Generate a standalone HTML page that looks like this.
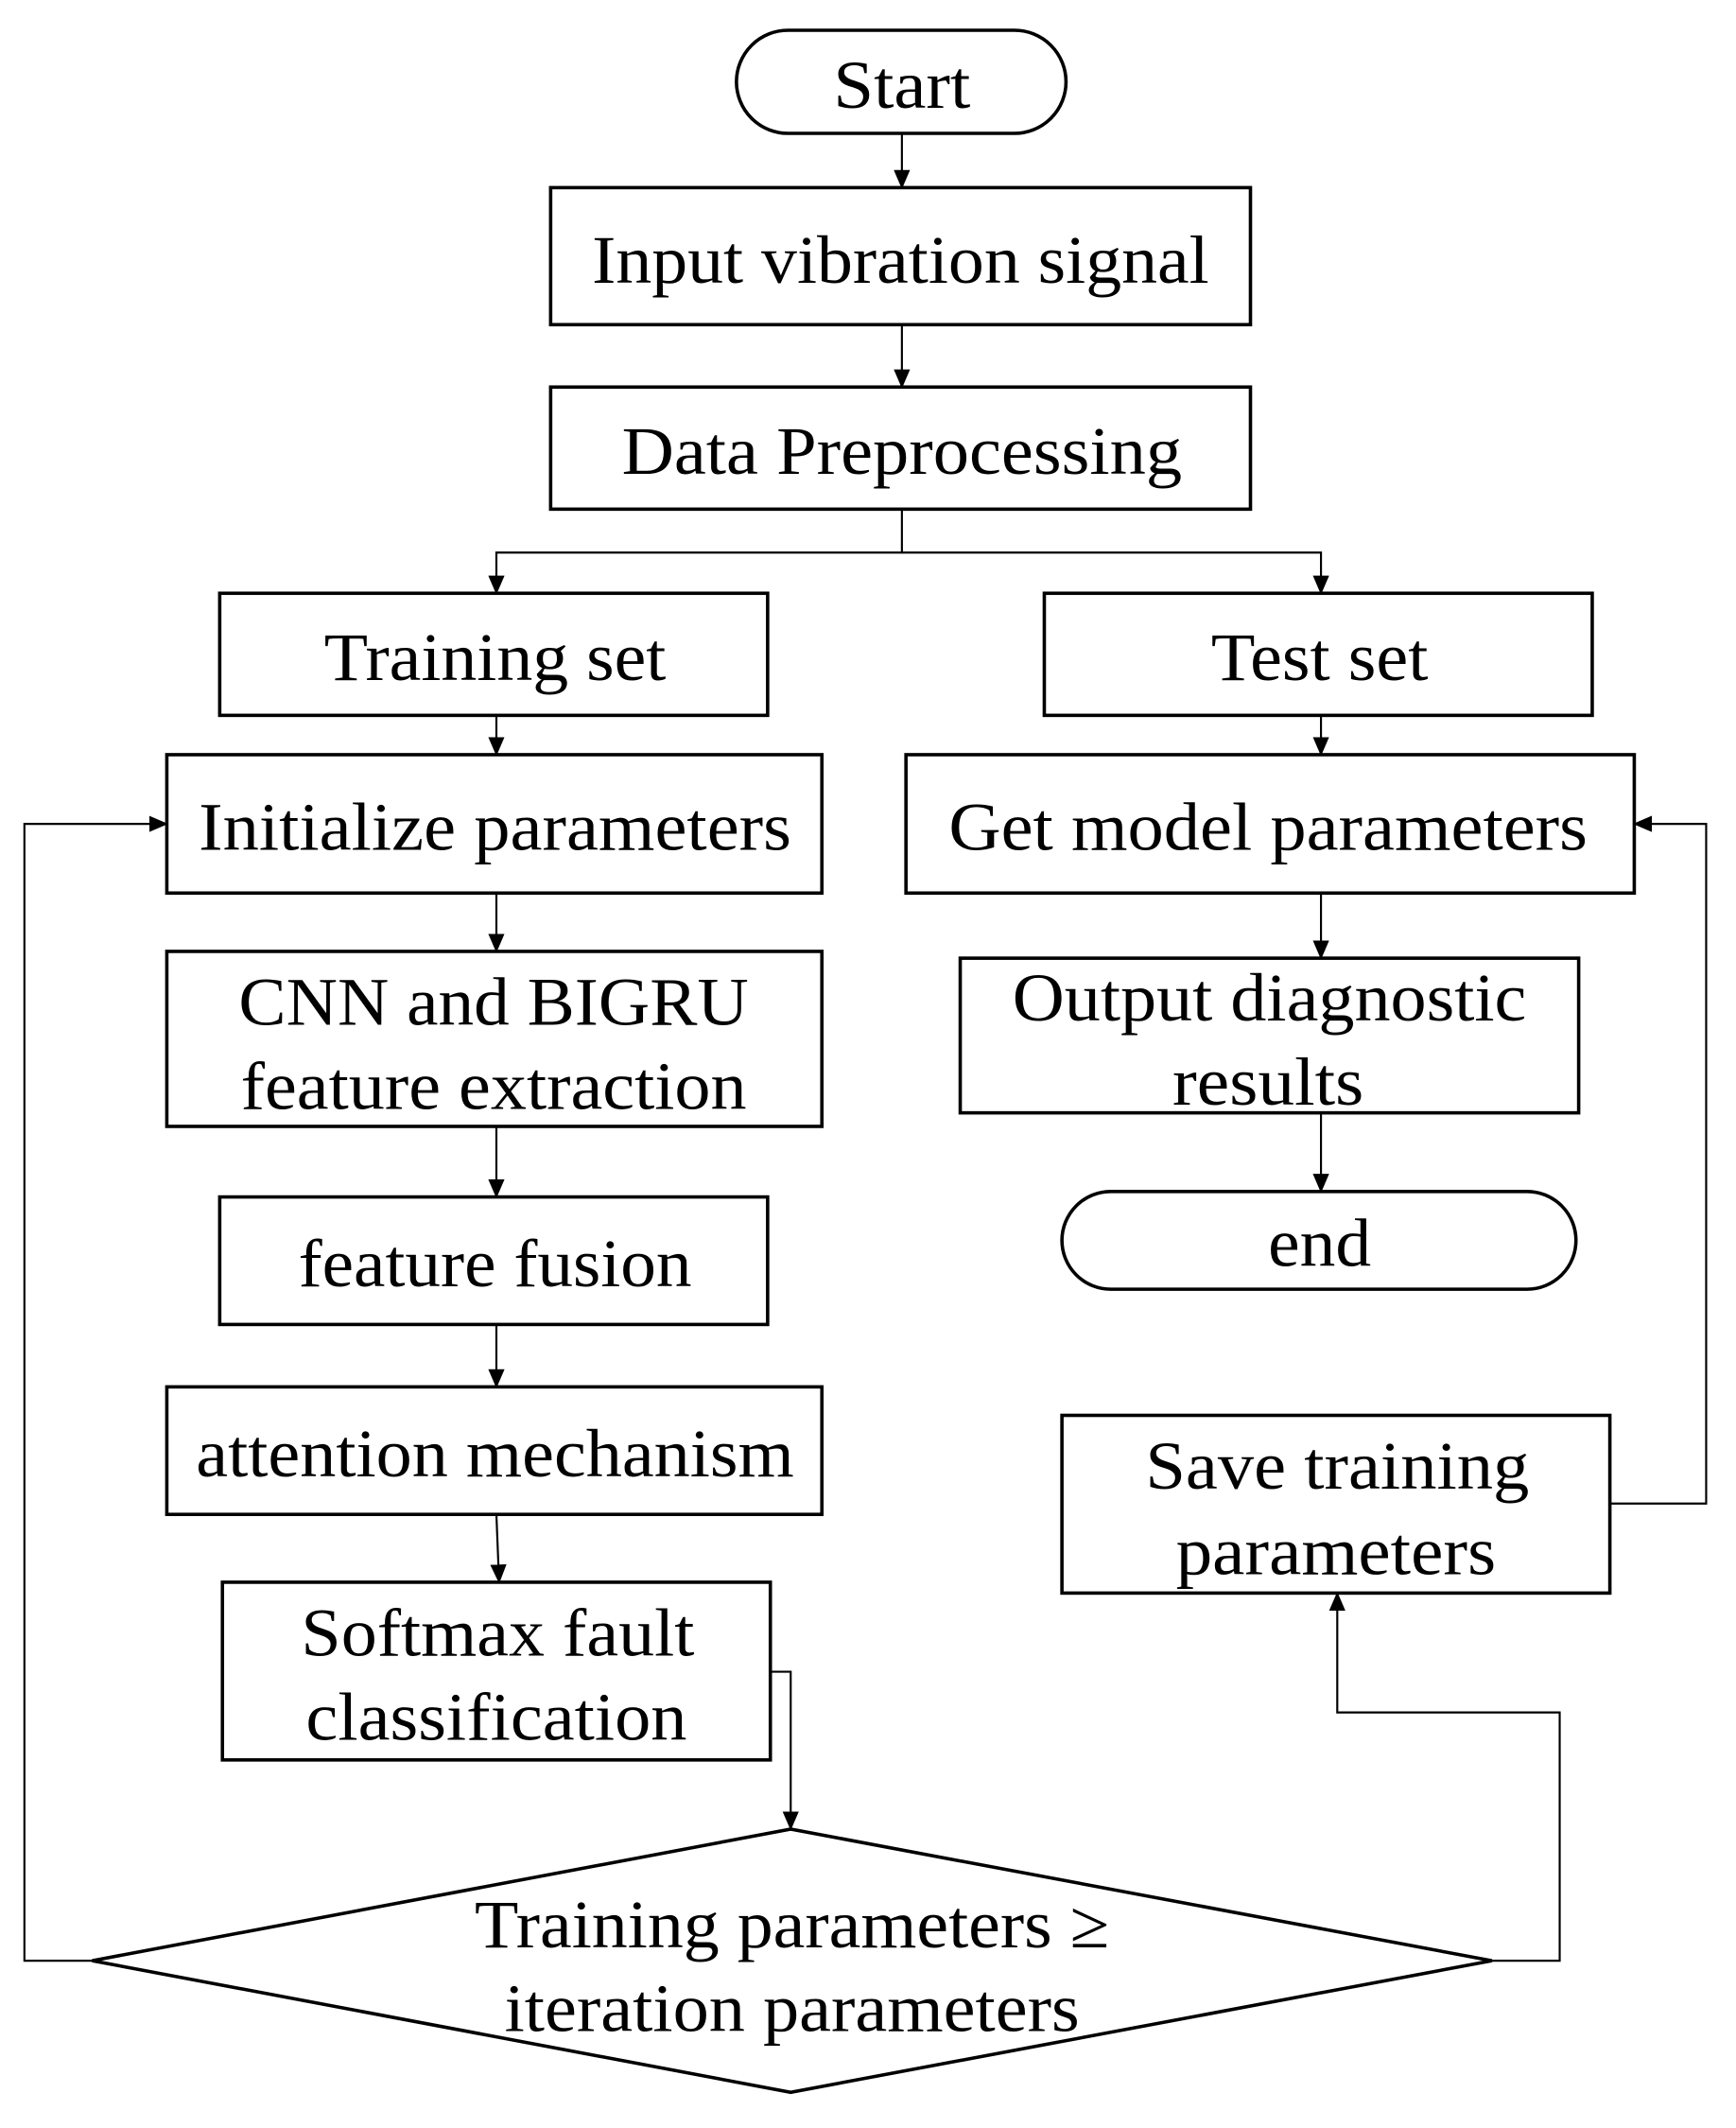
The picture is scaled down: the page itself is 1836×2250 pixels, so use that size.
<!DOCTYPE html>
<html><head><meta charset="utf-8"><style>
html,body{margin:0;padding:0;background:#fff;}
svg{display:block;}
text{font-family:"Liberation Serif",serif;font-size:50px;fill:#000;text-anchor:middle;}
</style></head><body>
<svg width="1836" height="2250" viewBox="0 0 1280 1568" xmlns="http://www.w3.org/2000/svg">
<defs><marker id="a" markerWidth="14" markerHeight="12" refX="13" refY="6" orient="auto" markerUnits="userSpaceOnUse"><path d="M0,0 L14,6 L0,12 Z" fill="#000"/></marker></defs>
<g fill="none" stroke="#000" stroke-width="2.5">
<rect x="543" y="22" width="243" height="76" rx="38"/>
<rect x="406" y="138" width="516" height="101"/>
<rect x="406" y="285" width="516" height="90"/>
<rect x="162" y="437" width="404" height="90"/>
<rect x="770" y="437" width="404" height="90"/>
<rect x="123" y="556" width="483" height="102"/>
<rect x="668" y="556" width="537" height="102"/>
<rect x="123" y="701" width="483" height="129"/>
<rect x="708" y="706" width="456" height="114"/>
<rect x="783" y="878" width="379" height="72" rx="36"/>
<rect x="162" y="882" width="404" height="94"/>
<rect x="123" y="1022" width="483" height="94"/>
<rect x="783" y="1043" width="404" height="131"/>
<rect x="164" y="1166" width="404" height="131"/>
<polygon points="68,1445 583,1348 1100,1445 583,1542"/>
</g>
<g fill="none" stroke="#000" stroke-width="1.5" marker-end="url(#a)">
<path d="M665,98 V138"/>
<path d="M665,239 V285"/>
<path d="M665,375 V407 H366 V437"/>
<path d="M665,407 H974 V437"/>
<path d="M366,527 V556"/>
<path d="M974,527 V556"/>
<path d="M366,658 V701"/>
<path d="M974,658 V706"/>
<path d="M366,830 V882"/>
<path d="M974,820 V878"/>
<path d="M366,976 V1022"/>
<path d="M366,1116 L368,1166"/>
<path d="M568,1232 H583 V1348"/>
<path d="M68,1445 H18 V607 H123"/>
<path d="M1100,1445 H1150 V1262 H986 V1174"/>
<path d="M1187,1108 H1258 V607 H1205"/>
</g>
<text x="665" y="79" textLength="101" lengthAdjust="spacingAndGlyphs">Start</text>
<text x="664" y="208" textLength="455" lengthAdjust="spacingAndGlyphs">Input vibration signal</text>
<text x="665" y="349" textLength="413" lengthAdjust="spacingAndGlyphs">Data Preprocessing</text>
<text x="365" y="501" textLength="252" lengthAdjust="spacingAndGlyphs">Training set</text>
<text x="973" y="501" textLength="160" lengthAdjust="spacingAndGlyphs">Test set</text>
<text x="365" y="626" textLength="437" lengthAdjust="spacingAndGlyphs">Initialize parameters</text>
<text x="935" y="626" textLength="471" lengthAdjust="spacingAndGlyphs">Get model parameters</text>
<text x="364" y="755" textLength="376" lengthAdjust="spacingAndGlyphs">CNN and BIGRU</text>
<text x="364" y="817" textLength="373" lengthAdjust="spacingAndGlyphs">feature extraction</text>
<text x="936" y="752" textLength="379" lengthAdjust="spacingAndGlyphs">Output diagnostic</text>
<text x="935" y="814" textLength="141" lengthAdjust="spacingAndGlyphs">results</text>
<text x="973" y="933" textLength="76" lengthAdjust="spacingAndGlyphs">end</text>
<text x="365" y="948" textLength="290" lengthAdjust="spacingAndGlyphs">feature fusion</text>
<text x="365" y="1088" textLength="441" lengthAdjust="spacingAndGlyphs">attention mechanism</text>
<text x="986" y="1097" textLength="283" lengthAdjust="spacingAndGlyphs">Save training</text>
<text x="985" y="1160" textLength="236" lengthAdjust="spacingAndGlyphs">parameters</text>
<text x="367" y="1220" textLength="290" lengthAdjust="spacingAndGlyphs">Softmax fault</text>
<text x="366" y="1282" textLength="281" lengthAdjust="spacingAndGlyphs">classification</text>
<text x="584" y="1435" textLength="468" lengthAdjust="spacingAndGlyphs">Training parameters ≥</text>
<text x="584" y="1497" textLength="424" lengthAdjust="spacingAndGlyphs">iteration parameters</text>
</svg>
</body></html>
